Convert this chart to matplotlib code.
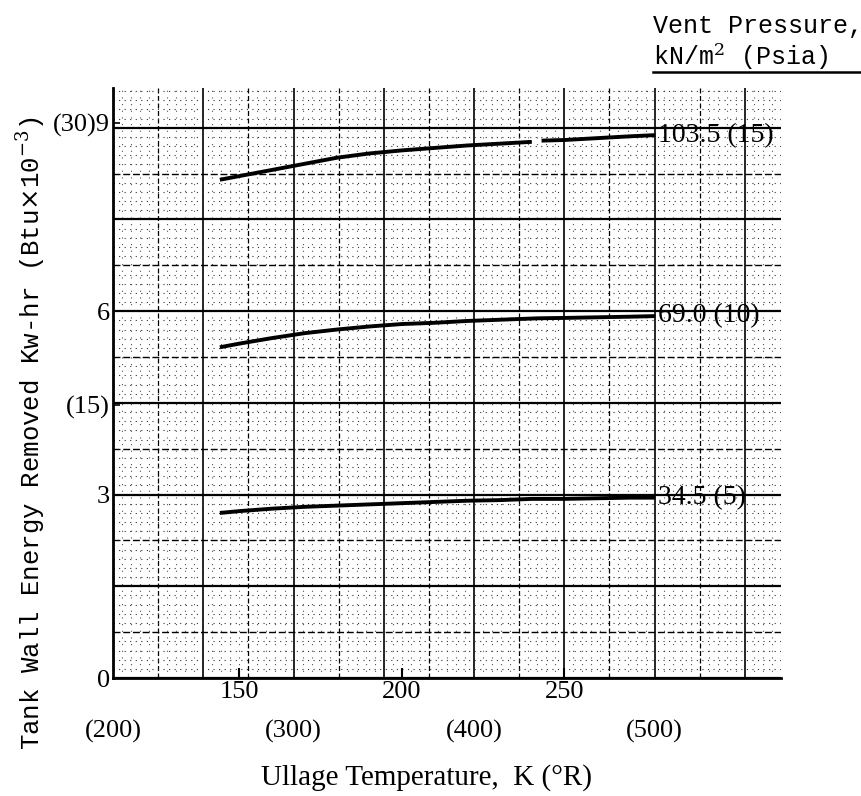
import numpy as np
import matplotlib
matplotlib.use("Agg")
import matplotlib.pyplot as plt
from matplotlib.lines import Line2D

# data: ullage temperature (K) vs tank wall energy removed (kW-hr)
temp_k = [144, 150, 160, 170, 180, 190, 200, 210, 220, 230, 240, 241.5, 243, 250, 260, 270, 278]
energy_103 = [8.15, 8.21, 8.31, 8.41, 8.51, 8.58, 8.63, 8.67, 8.71, 8.74, 8.77, np.nan,
              8.79, 8.80, 8.83, 8.86, 8.88]
energy_69 = [5.41, 5.47, 5.56, 5.64, 5.70, 5.75, 5.79, 5.81, 5.84, 5.86, 5.88, 5.883,
             5.885, 5.89, 5.90, 5.91, 5.92]
energy_34 = [2.70, 2.73, 2.77, 2.80, 2.82, 2.84, 2.86, 2.88, 2.90, 2.91, 2.93, 2.93,
             2.93, 2.93, 2.94, 2.95, 2.95]
curve_labels = ["103.5 (15)", "69.0 (10)", "34.5 (5)"]

x_ticks = [150, 200, 250]
rankine_ticks = [200, 300, 400, 500]
y_ticks = [0, 3, 4.47, 6, 9.08]
y_ticklabels = ["0", "3", "(15)", "6", "(30)9"]

SERIF = "Liberation Serif"
MONO = "Liberation Mono"
plt.rcParams["mathtext.fontset"] = "dejavuserif"


def r_to_k(r):
    return np.asarray(r) * 5.0 / 9.0


def k_to_r(k):
    return np.asarray(k) * 9.0 / 5.0


fig = plt.figure(figsize=(8.62, 7.96), dpi=100)
ax = fig.add_axes([0.1311, 0.1482, 0.775, 0.7412])

xmin, xmax = r_to_k(200), 316.7
ymin, ymax = 0, 9.65
ax.set_xlim(xmin, xmax)
ax.set_ylim(ymin, ymax)

# graph paper: fine dots, medium dashed, heavy solid
for r in np.arange(200, 572, 5):
    k = r_to_k(r)
    if r % 50 == 0:
        ax.axvline(k, color="black", lw=1.2, zorder=1)
    elif r % 25 == 0:
        ax.axvline(k, color="black", lw=0.9, ls=(0, (4, 2)), zorder=1)
    else:
        ax.axvline(k, color="#555555", lw=0.8, ls=(0, (1, 5)), zorder=1)
for i, y in enumerate(np.arange(0, 9.66, 0.15)):
    if i % 10 == 0:
        ax.axhline(y, color="black", lw=1.6, zorder=1)
    elif i % 5 == 0:
        ax.axhline(y, color="black", lw=1.0, ls=(0, (5, 2)), zorder=1)
    else:
        ax.axhline(y, color="#333333", lw=0.8, ls=(0, (1, 4)), zorder=1)

for vals, lab in zip([energy_103, energy_69, energy_34], curve_labels):
    ax.plot(temp_k, vals, color="black", lw=2.8, solid_capstyle="butt", zorder=3)
    ax.annotate(lab, xy=(temp_k[-1], vals[-1]), xytext=(2, 0), textcoords="offset points",
                ha="left", va="center", fontsize=20, family=SERIF,
                annotation_clip=False)

for s in ["top", "right"]:
    ax.spines[s].set_visible(False)
for s in ["left", "bottom"]:
    ax.spines[s].set_linewidth(2.0)

ax.set_xticks(x_ticks)
ax.set_xticklabels([str(t) for t in x_ticks], family=SERIF, fontsize=19)
ax.tick_params(axis="x", direction="in", length=7, width=1.5, pad=2)
ax.set_yticks(y_ticks)
ax.set_yticklabels(y_ticklabels, family=SERIF, fontsize=19)
ax.tick_params(axis="y", direction="in", length=5, width=1.2, pad=2)

sec = ax.secondary_xaxis("bottom", functions=(k_to_r, r_to_k))
sec.set_xticks(rankine_ticks)
sec.set_xticklabels(["(%d)" % r for r in rankine_ticks], family=SERIF, fontsize=19)
sec.tick_params(length=0, pad=30)
sec.spines["bottom"].set_visible(False)

ax.set_xlabel("Ullage Temperature,  K (°R)", family=SERIF, fontsize=21)
ax.xaxis.set_label_coords(0.469, -0.146)
ax.set_ylabel("Tank Wall Energy Removed Kw-hr (Btu$\\times$10$^{-3}$)", family=MONO,
              fontsize=18.5)
ax.yaxis.set_label_coords(-0.097, 0.415)

fig.text(0.757, 0.958, "Vent Pressure,", family=MONO, fontsize=18, ha="left", va="baseline")
fig.text(0.757, 0.918, "kN/m$^2$ (Psia)", family=MONO, fontsize=18, ha="left", va="baseline")
fig.add_artist(Line2D([0.757, 1.0], [0.909, 0.909], color="black", lw=1.8))

fig.savefig("out.png", dpi=100)
